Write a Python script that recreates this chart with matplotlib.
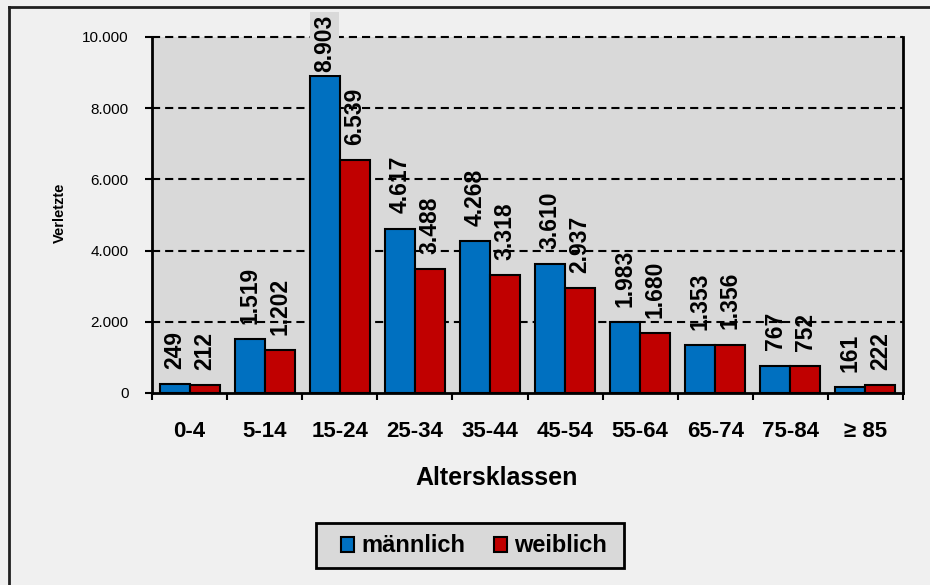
import numpy as np
import matplotlib.pyplot as plt
from matplotlib.lines import Line2D
from matplotlib.patches import Rectangle

plt.rcParams['font.family'] = ['Liberation Sans', 'DejaVu Sans']

klassen = ['0-4', '5-14', '15-24', '25-34', '35-44', '45-54', '55-64', '65-74', '75-84', '≥ 85']
maennlich = [249, 1519, 8903, 4617, 4268, 3610, 1983, 1353, 767, 161]
weiblich = [212, 1202, 6539, 3488, 3318, 2937, 1680, 1356, 752, 222]

blau = '#0070c0'
rot = '#c00000'


def fmt(v):
    return '{:,}'.format(v).replace(',', '.')


fig = plt.figure(figsize=(9.3, 5.85), dpi=100, facecolor='#f0f0f0')
ax = fig.add_axes([152/930, 1-393/585, 751/930, 356/585])
ax.set_facecolor('#d9d9d9')

x = np.arange(len(klassen))
b1 = ax.bar(x - 0.2, maennlich, 0.4, color=blau, edgecolor='black', linewidth=1.5, label='männlich', zorder=3)
b2 = ax.bar(x + 0.2, weiblich, 0.4, color=rot, edgecolor='black', linewidth=1.5, label='weiblich', zorder=3)

for bars, vals in [(b1, maennlich), (b2, weiblich)]:
    for r, v in zip(bars, vals):
        bb = None
        off = 11
        if v > 8000:
            # label runs past the top of the plot area
            bb = dict(facecolor='#d9d9d9', edgecolor='none', pad=2)
            off = 3
        ax.annotate(fmt(v), (r.get_x() + r.get_width()/2, v), xytext=(0, off),
                    textcoords='offset points', rotation=90, ha='center', va='bottom',
                    fontsize=16.5, fontweight='bold', zorder=5, annotation_clip=False, bbox=bb)

ax.set_xlim(-0.5, len(klassen) - 0.5)
ax.set_ylim(0, 10000)
ax.set_yticks(np.arange(0, 10001, 2000))
ax.set_yticklabels([fmt(v) for v in range(0, 10001, 2000)], fontsize=11)
ax.tick_params(axis='y', direction='out', length=5, width=1.5, pad=12)

ax.set_xticks(x)
ax.set_xticklabels(klassen, fontsize=16, fontweight='bold')
ax.tick_params(axis='x', which='major', length=0, pad=20)
ax.set_xticks(np.arange(-0.5, len(klassen)), minor=True)
ax.tick_params(axis='x', which='minor', direction='out', length=5, width=1.5)

for yv in range(2000, 10001, 2000):
    ax.axhline(yv, color='black', linestyle=(0, (3.9, 2.4)), linewidth=1.5, zorder=2, clip_on=False)

ax.spines['top'].set_visible(False)
for s in ['left', 'right', 'bottom']:
    ax.spines[s].set_linewidth(2)

fig.text(497/930, 1-478/585, 'Altersklassen', ha='center', va='center', fontsize=18, fontweight='bold')
fig.text(60/930, 1-213/585, 'Verletzte', ha='center', va='center', rotation=90, fontsize=10.5, fontweight='bold')

# legend box
fig.add_artist(Rectangle((316/930, 1-568/585), 308/930, 45/585, transform=fig.transFigure,
                         facecolor='#d9d9d9', edgecolor='black', linewidth=2))
leg = fig.legend(handles=[b1, b2], loc='center', bbox_to_anchor=(474/930, 1-546/585), ncol=2,
                 prop={'weight': 'bold', 'size': 17}, frameon=False, handlelength=0.55,
                 handleheight=0.6, handletextpad=0.3, columnspacing=1.2, borderpad=0.2)

fig.add_artist(Line2D([9/930, 9/930], [0, 1-7/585], color='#202020', linewidth=2))
fig.add_artist(Line2D([9/930, 1], [1-7/585, 1-7/585], color='#202020', linewidth=2))

fig.savefig('out.png', dpi=100, facecolor=fig.get_facecolor())
